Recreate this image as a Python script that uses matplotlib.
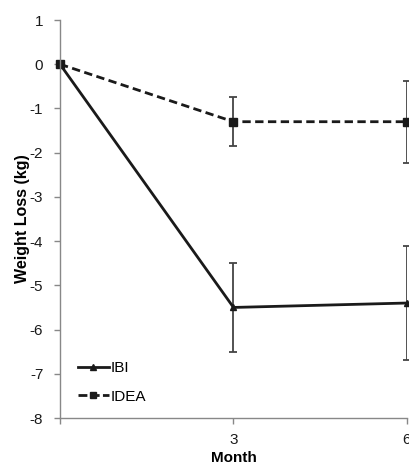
import matplotlib
matplotlib.use("Agg")
import matplotlib.pyplot as plt
from matplotlib.lines import Line2D

months = [0, 3, 6]
ibi = [0, -5.5, -5.4]
ibi_err = [0, 1.0, 1.28]
idea = [0, -1.3, -1.3]
idea_err = [0, 0.55, 0.93]
yticks = [1, 0, -1, -2, -3, -4, -5, -6, -7, -8]

plt.rcParams['font.family'] = ['Liberation Sans', 'DejaVu Sans']
fig = plt.figure(figsize=(4.1, 4.65), dpi=100)
ax = fig.add_axes([60/410, 1-418/465, 347/410, 398/465])

axis_col = '#888888'
line_col = '#1a1a1a'
dash = (0, (3, 1.6))
ax.errorbar(months, ibi, yerr=ibi_err, color=line_col, lw=2, marker='^', ms=5,
            ecolor='#444444', elinewidth=1.3, capsize=3, capthick=1.3)
ax.errorbar(months, idea, yerr=idea_err, color=line_col, lw=2, ls=dash, marker='s', ms=6,
            ecolor='#444444', elinewidth=1.3, capsize=3, capthick=1.3)

ax.set_xlim(0, 6)
ax.set_ylim(-8, 1)
ax.set_yticks(yticks)
ax.set_yticklabels([str(v) for v in yticks])
ax.set_xticks(months)
ax.set_xticklabels(['', '3', '6'])
for s in ['top', 'right']:
    ax.spines[s].set_visible(False)
for s in ['left', 'bottom']:
    ax.spines[s].set_color(axis_col)
    ax.spines[s].set_linewidth(1)
ax.tick_params(axis='both', colors=axis_col, labelcolor='#1a1a1a', labelsize=11, length=4, width=1)
ax.tick_params(axis='y', pad=8)
ax.tick_params(axis='x', pad=7)
ax.set_ylabel('Weight Loss (kg)', fontsize=11.5, fontweight='bold')
ax.yaxis.set_label_coords(-0.0865, 0.5)
ax.set_xlabel('Month', fontsize=11, fontweight='bold', labelpad=3)
for a in ax.lines:
    a.set_clip_on(False)

handles = [Line2D([], [], color=line_col, lw=2, marker='^', ms=4),
           Line2D([], [], color=line_col, lw=2, ls=(0, (3.2, 1.2)), marker='s', ms=5)]
leg = fig.legend(handles, ['IBI', 'IDEA'], loc='center left', bbox_to_anchor=(78/410, 1-382.5/465),
                 frameon=False, fontsize=11, handlelength=2.0, handletextpad=0.15,
                 labelspacing=0.95, borderpad=0, borderaxespad=0)
fig.savefig('out.png', dpi=100)
